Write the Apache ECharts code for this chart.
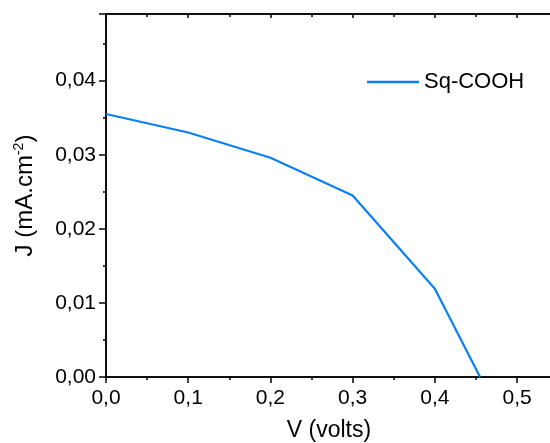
<!DOCTYPE html>
<html><head><meta charset="utf-8">
<script src="https://cdn.jsdelivr.net/npm/echarts@6/dist/echarts.min.js"></script>
<style>html,body{margin:0;padding:0;background:#fff}#c{width:550px;height:443px}</style>
</head><body><div id="c"></div>
<script>
const voltage = [0.0, 0.1, 0.2, 0.3, 0.4, 0.455];
const currentDensity = [0.0355, 0.0330, 0.0296, 0.0245, 0.0119, 0.0];
const seriesName = 'Sq-COOH';
const xTitle = 'V (volts)';

const font = 'Arial, "Liberation Sans", sans-serif';
const fmt = (v, d) => v.toFixed(d).replace('.', ',');
const chart = echarts.init(document.getElementById('c'), null, {renderer: 'canvas'});
chart.setOption({
  animation: false,
  backgroundColor: '#fff',
  textStyle: {fontFamily: font},
  grid: {left: 106, top: 14, right: -2, bottom: 66, containLabel: false, outerBoundsMode: 'none',
         show: true, borderColor: '#000', borderWidth: 1.5, backgroundColor: 'transparent'},
  legend: {
    left: 362, top: 66, data: [seriesName], icon: 'rect', itemWidth: 52, itemHeight: 2.5, itemGap: 8,
    textStyle: {fontFamily: font, fontSize: 22, color: '#000'}
  },
  xAxis: [{
    type: 'value', gridIndex: 0, min: 0, max: 0.5425, interval: 0.1, position: 'bottom',
    axisLine: {show: true, onZero: false, lineStyle: {color: '#000', width: 1.5}},
    axisTick: {show: true, inside: false, length: 6, lineStyle: {color: '#000', width: 1.5}},
    minorTick: {show: true, splitNumber: 2, length: 3, lineStyle: {color: '#000', width: 1.5}},
    splitLine: {show: false},
    axisLabel: {fontSize: 21, color: '#000', fontFamily: font, margin: 11, showMaxLabel: false, formatter: v => fmt(v, 1)},
    name: xTitle, nameLocation: 'middle', nameGap: 42,
    nameTextStyle: {fontSize: 23, color: '#000', fontFamily: font}
  }, {
    type: 'value', gridIndex: 0, min: 0, max: 0.5425, interval: 0.1, position: 'top', offset: 0,
    axisLine: {show: true, onZero: false, lineStyle: {color: '#000', width: 1.5}},
    axisTick: {show: true, inside: true, length: 4, lineStyle: {color: '#000', width: 1.5}},
    minorTick: {show: true, splitNumber: 2, length: 3, lineStyle: {color: '#000', width: 1.5}},
    splitLine: {show: false}, axisLabel: {show: false}
  }],
  yAxis: [{
    type: 'value', gridIndex: 0, min: 0, max: 0.049, interval: 0.01,
    axisLine: {show: true, onZero: false, lineStyle: {color: '#000', width: 1.5}},
    axisTick: {show: true, inside: false, length: 7, lineStyle: {color: '#000', width: 1.5}},
    minorTick: {show: true, splitNumber: 2, length: 3, lineStyle: {color: '#000', width: 1.5}},
    splitLine: {show: false},
    axisLabel: {fontSize: 21, color: '#000', fontFamily: font, margin: 10, showMaxLabel: false, formatter: v => fmt(v, 2)},
    name: '{a|J (mA.cm}{s|-2}{a|)}', nameLocation: 'middle', nameGap: 68, nameRotate: 90,
    nameTextStyle: {
      color: '#000', fontFamily: font,
      rich: {
        a: {fontSize: 24, color: '#000', fontFamily: font},
        s: {fontSize: 14, color: '#000', fontFamily: font, verticalAlign: 'top', padding: [0, 0, 12, 0]}
      }
    }
  }],
  series: [{
    name: seriesName, type: 'line', xAxisIndex: 0, yAxisIndex: 0,
    data: voltage.map((v, i) => [v, currentDensity[i]]),
    showSymbol: false, symbol: 'none',
    lineStyle: {color: '#0a80f5', width: 2.2},
    itemStyle: {color: '#0a80f5'}
  }, {
    name: 'top-axis-anchor', type: 'line', xAxisIndex: 1, yAxisIndex: 0,
    data: [], showSymbol: false, silent: true
  }]
});
</script></body></html>
